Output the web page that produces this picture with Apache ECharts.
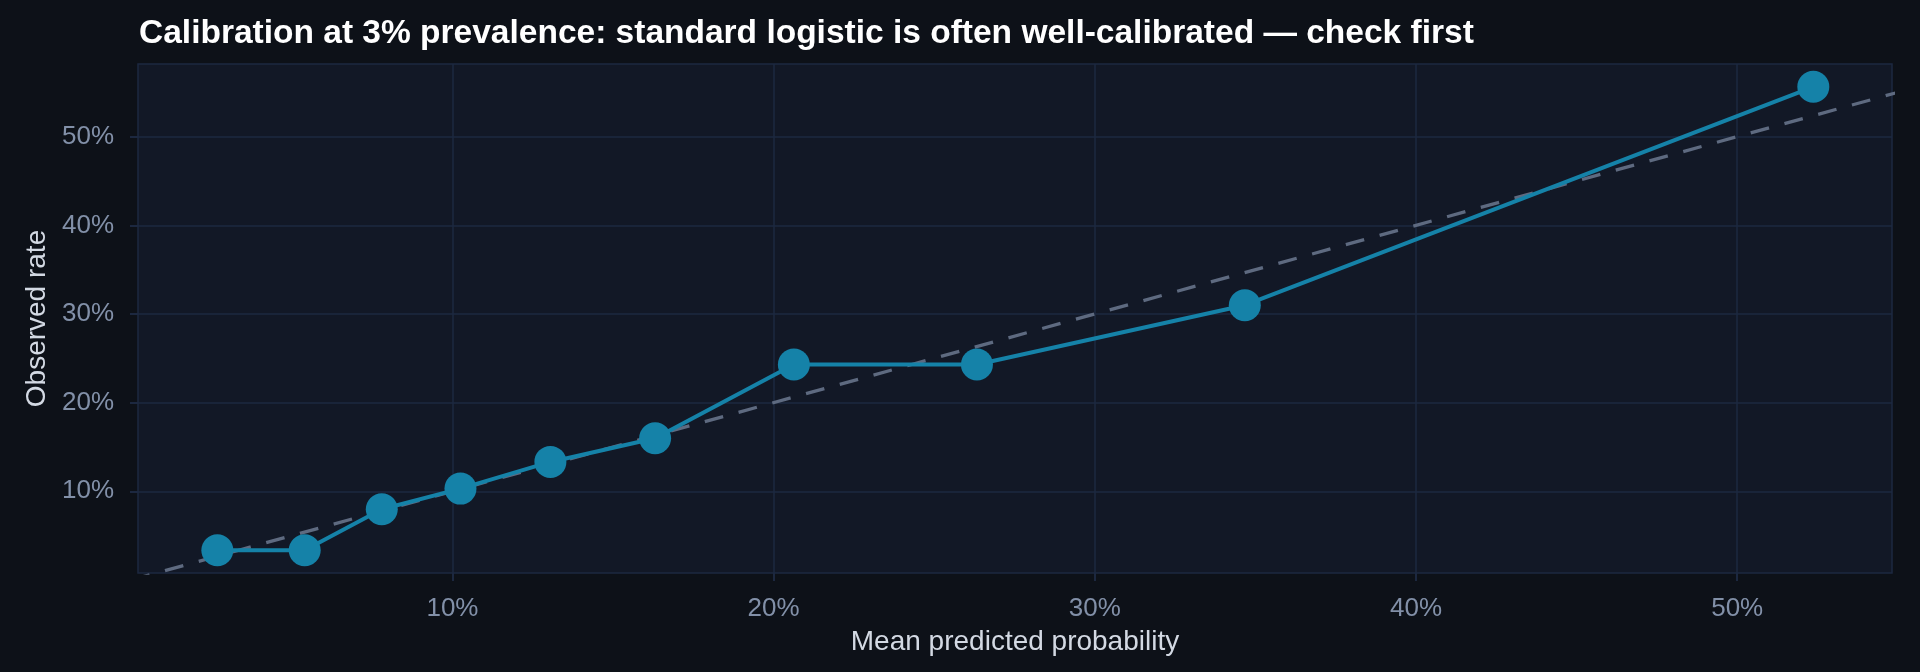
<!DOCTYPE html>
<html>
<head>
<meta charset="utf-8">
<title>Calibration at 3% prevalence</title>
<script src="https://cdn.jsdelivr.net/npm/echarts@6/dist/echarts.min.js"></script>
<style>
  html, body { margin: 0; padding: 0; background: #0d1118; }
  #chart { width: 1920px; height: 672px; }
</style>
</head>
<body>
<div id="chart"></div>
<script>
// mean predicted probability per bin (x) and observed event rate (y)
var predicted = [0.0268, 0.0540, 0.0780, 0.1025, 0.1305, 0.1631, 0.2063, 0.2633, 0.3467, 0.5237];
var observed  = [0.0334, 0.0334, 0.0797, 0.1030, 0.1331, 0.1598, 0.2430, 0.2430, 0.3099, 0.5563];
// perfect calibration reference line
var diagonal = [0, 0.6];
var tickValues = [0.1, 0.2, 0.3, 0.4, 0.5];

var font = '"Liberation Sans", Arial, Helvetica, sans-serif';
var gridColor = '#1c2840';
var pct = function (v) { return Math.round(v * 100) + '%'; };

var chart = echarts.init(document.getElementById('chart'));

var option = {
    backgroundColor: '#0d1118',
    animation: false,
    textStyle: { fontFamily: font },
    title: {
        text: 'Calibration at 3% prevalence: standard logistic is often well-calibrated \u2014 check first',
        left: 134,
        top: 12,
        textStyle: { color: '#ffffff', fontSize: 33.5, fontWeight: 'bold', fontFamily: font }
    },
    grid: {
        left: 138, right: 28, top: 64, bottom: 99,
        show: true,
        backgroundColor: '#121826',
        borderColor: gridColor,
        borderWidth: 1.5
    },
    xAxis: {
        type: 'value',
        min: 0.0021,
        max: 0.5482,
        name: 'Mean predicted probability',
        nameLocation: 'middle',
        nameGap: 55,
        nameTextStyle: { color: '#d3d9e3', fontSize: 28, fontFamily: font },
        axisLine: { show: false },
        axisTick: { show: true, length: 8, customValues: tickValues, lineStyle: { color: gridColor, width: 2 } },
        axisLabel: { customValues: tickValues, formatter: pct, color: '#8290a8', fontSize: 26, margin: 23, fontFamily: font },
        splitLine: { show: true, lineStyle: { color: gridColor, width: 1.5 } }
    },
    yAxis: {
        type: 'value',
        min: 0.0078,
        max: 0.582,
        name: 'Observed rate',
        nameLocation: 'middle',
        nameGap: 86,
        nameTextStyle: { color: '#d3d9e3', fontSize: 28, fontFamily: font },
        axisLine: { show: false },
        axisTick: { show: true, length: 8, customValues: tickValues, lineStyle: { color: gridColor, width: 2 } },
        axisLabel: { customValues: tickValues, formatter: pct, color: '#8290a8', fontSize: 26, margin: 24, fontFamily: font },
        splitLine: { show: true, lineStyle: { color: gridColor, width: 1.5 } }
    },
    series: [
        {
            name: 'Perfect calibration',
            type: 'line',
            data: diagonal.map(function (v) { return [v, v]; }),
            showSymbol: false,
            clip: true,
            z: 1,
            lineStyle: { color: '#5e6a80', width: 3.3, type: [19, 16] }
        },
        {
            name: 'Standard logistic',
            type: 'line',
            data: predicted.map(function (x, i) { return [x, observed[i]]; }),
            symbol: 'circle',
            symbolSize: 32,
            clip: true,
            z: 3,
            itemStyle: { color: '#1582a8' },
            lineStyle: { color: '#1582a8', width: 4 }
        }
    ]
};

chart.setOption(option);
</script>
</body>
</html>
